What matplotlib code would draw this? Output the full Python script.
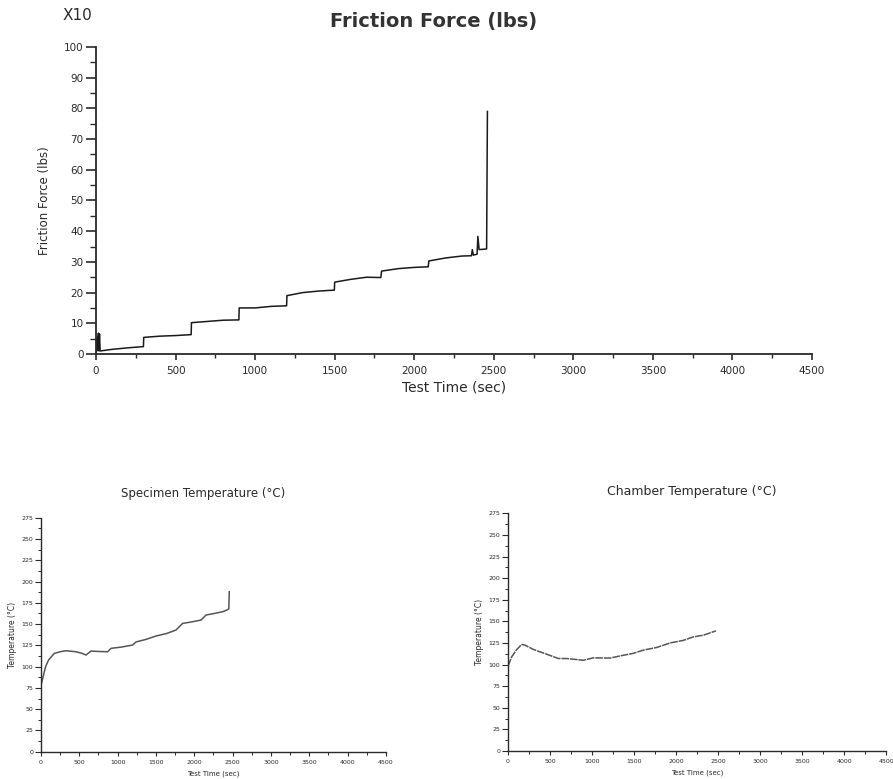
#
# Friction test: friction force (top), specimen and chamber temperature (bottom)
#
import matplotlib
matplotlib.use('Agg')
import matplotlib.pyplot as plt
from matplotlib import font_manager
from matplotlib.ticker import MultipleLocator

# friction force, in units of 10 lbs
friction_time = [0, 3, 6, 9, 12, 15, 18, 22, 26, 30, 100, 200, 298,
                 300, 400, 500, 598,
                 600, 700, 800, 898,
                 900, 1000, 1100, 1198,
                 1200, 1300, 1400, 1498,
                 1500, 1600, 1700, 1790,
                 1795, 1900, 2000, 2088,
                 2092, 2200, 2300, 2360, 2365, 2372, 2395, 2400, 2408,
                 2455, 2460]
friction_lbs = [0, 4.5, 1, 5.5, 1.5, 6.8, 1, 6.5, 1, 1.0, 1.5, 2.0, 2.4,
                5.4, 5.8, 6.0, 6.3,
                10.2, 10.6, 11.0, 11.1,
                15.0, 15.0, 15.5, 15.7,
                19.0, 20.0, 20.5, 20.8,
                23.4, 24.3, 25.0, 24.9,
                27.0, 27.8, 28.2, 28.4,
                30.3, 31.3, 31.9, 32.0, 34.0, 32.2, 32.5, 38.3, 34.0,
                34.2, 79.0]

spec_time = [0, 22, 60, 100, 174, 250, 326, 456, 540, 587, 652, 760, 870,
             913, 1050, 1196, 1239, 1370, 1500, 1640, 1761, 1848, 1960, 2087,
             2152, 2260, 2370, 2435, 2450, 2456]
spec_temp = [78, 86, 100, 108, 115.6, 117.5, 118.7, 117.5, 115.5, 113.6,
             118.3, 117.8, 117.5, 121.5, 123, 125.4, 129, 132, 136, 139, 143,
             150.8, 152.5, 154.7, 160.6, 162.5, 164.5, 167, 168, 188]

chamb_time = [0, 44, 100, 163, 202, 302, 460, 599, 699, 897, 1016, 1214,
              1333, 1492, 1611, 1770, 1929, 2087, 2206, 2325, 2476]
chamb_temp = [98.2, 109, 117, 123.3, 122.5, 117.5, 112, 107, 107, 105, 107.8,
              107.5, 110, 113, 116.7, 119.8, 125, 128, 132, 134, 139]

time_ticks = [0, 500, 1000, 1500, 2000, 2500, 3000, 3500, 4000, 4500]
force_ticks = [0, 10, 20, 30, 40, 50, 60, 70, 80, 90, 100]
temp_ticks = [0, 25, 50, 75, 100, 125, 150, 175, 200, 225, 250, 275]

names = {f.name for f in font_manager.fontManager.ttflist}
narrow = 'Liberation Sans Narrow' if 'Liberation Sans Narrow' in names else 'DejaVu Sans'

plt.rcParams['font.family'] = ['DejaVu Sans']
ink = '#2a2a2a'

fig = plt.figure(figsize=(8.93, 7.79), dpi=100)


def style(ax, xt, yt, ymax, ystep, fs, big):
    for s in ['top', 'right']:
        ax.spines[s].set_visible(False)
    for s in ['left', 'bottom']:
        ax.spines[s].set_color(ink)
        ax.spines[s].set_linewidth(1.3 if big else 1.0)
    ax.set_xlim(0, 4500)
    ax.set_ylim(0, ymax)
    ax.set_xticks(xt)
    ax.set_yticks(yt)
    ax.xaxis.set_minor_locator(MultipleLocator(250))
    ax.yaxis.set_minor_locator(MultipleLocator(ystep))
    ax.tick_params(which='major', direction='out', colors=ink, labelsize=fs,
                   width=1.2 if big else 0.8)
    ax.tick_params(which='minor', direction='out', colors=ink,
                   width=1.0 if big else 0.7)
    if big:
        ax.tick_params(axis='y', which='major', length=7, pad=2)
        ax.tick_params(axis='y', which='minor', length=4)
        ax.tick_params(axis='x', which='major', length=4, pad=5)
        ax.tick_params(axis='x', which='minor', length=3)
    else:
        ax.tick_params(axis='y', which='major', length=4, pad=1.5)
        ax.tick_params(axis='y', which='minor', length=2)
        ax.tick_params(axis='x', which='major', length=3, pad=3)
        ax.tick_params(axis='x', which='minor', length=2)
    ax.set_facecolor('none')


# top: friction force
ax1 = fig.add_axes([0.1075, 0.5456, 0.8018, 0.3941])
ax1.plot(friction_time, friction_lbs, color='#1a1a1a', lw=1.1)
style(ax1, time_ticks, force_ticks, 100, 5, 7.5, True)
ax1.set_xlabel('Test Time (sec)', fontsize=10, color=ink, labelpad=3)
ax1.set_ylabel('Friction Force (lbs)', fontsize=8.5, color=ink,
               family=narrow, labelpad=9)
fig.text(434 / 893, 1 - 21 / 779, 'Friction Force (lbs)', fontsize=14,
         fontweight='bold', color='#333333', ha='center', va='center')
fig.text(77 / 893, 1 - 15 / 779, 'X10', fontsize=11, color=ink,
         ha='center', va='center')

# bottom left: specimen temperature
ax2 = fig.add_axes([0.0459, 0.0350, 0.3863, 0.3004])
ax2.plot(spec_time, spec_temp, color='#555555', lw=1.1)
style(ax2, time_ticks, temp_ticks, 275, 12.5, 4.5, False)
ax2.set_xlabel('Test Time (sec)', fontsize=5, color=ink, labelpad=4)
ax2.set_ylabel('Temperature (°C)', fontsize=5.5, color=ink, labelpad=3)
fig.text(203 / 893, 1 - 494 / 779, 'Specimen Temperature (°C)', fontsize=8.5,
         color=ink, ha='center', va='center')

# bottom right: chamber temperature
ax3 = fig.add_axes([0.5689, 0.0359, 0.4233, 0.3052])
ax3.plot(chamb_time, chamb_temp, color='#555555', lw=1.1, ls=(0, (5, 0.6)))
style(ax3, time_ticks, temp_ticks, 275, 12.5, 4.5, False)
ax3.set_xlabel('Test Time (sec)', fontsize=5, color=ink, labelpad=4)
ax3.set_ylabel('Temperature (°C)', fontsize=5.5, color=ink, labelpad=3)
fig.text(692 / 893, 1 - 492 / 779, 'Chamber Temperature (°C)', fontsize=9,
         color=ink, ha='center', va='center')

fig.savefig('out.png', dpi=100)
